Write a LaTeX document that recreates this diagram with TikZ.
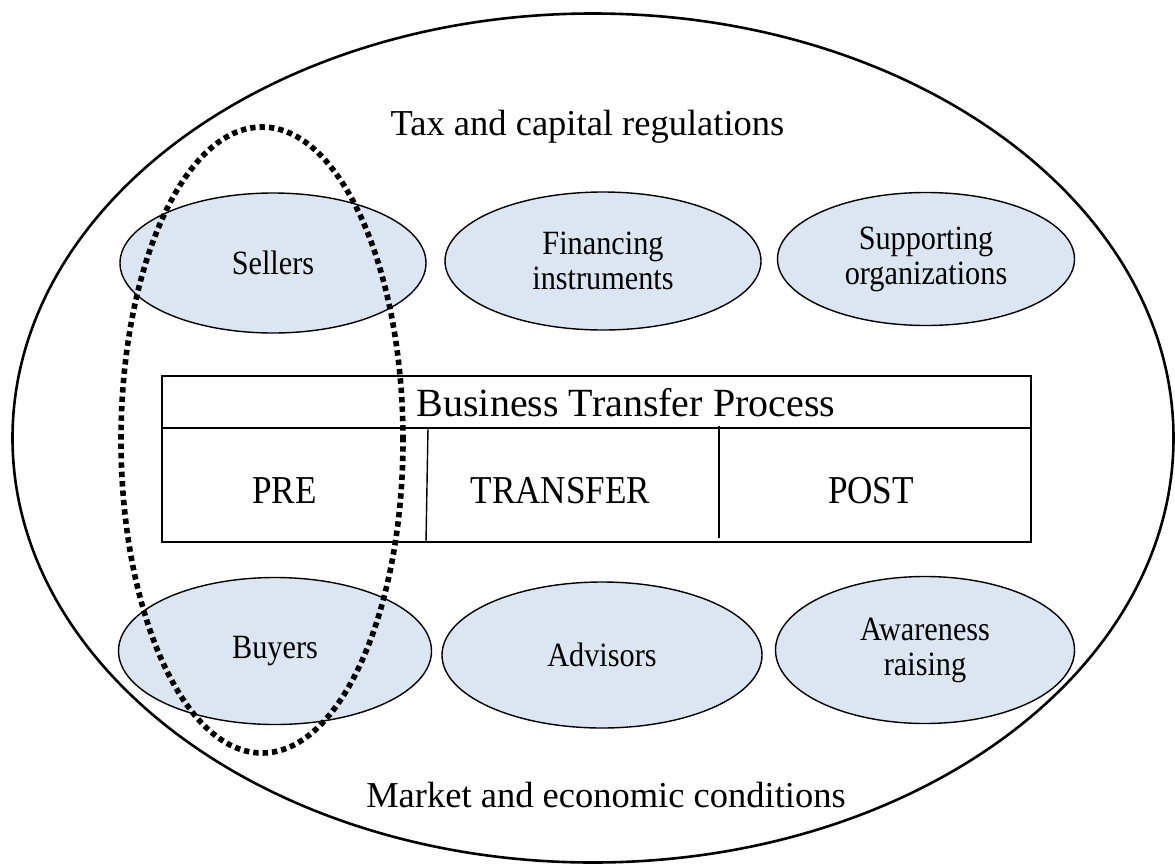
\documentclass[tikz,border=0pt]{standalone}
\usepackage{fontspec}
\setmainfont{Liberation Serif}
\newfontfamily\narrowserif{Liberation Serif}[FakeStretch=0.89]
\usetikzlibrary{shapes.geometric}
\definecolor{blobfill}{HTML}{DCE6F2}
\begin{document}
\begin{tikzpicture}[x=1pt,y=-1pt,
  blob/.style={ellipse,draw=black,line width=1.4pt,fill=blobfill,inner sep=0pt,
    align=center,font=\narrowserif\fontsize{34}{35}\selectfont},
  cellrule/.style={draw=black,line width=1.8pt},
  celltext/.style={anchor=base,font=\narrowserif\fontsize{39.5}{42}\selectfont},
  ctxtext/.style={anchor=base,font=\fontsize{36.5}{40}\selectfont}]
\useasboundingbox (0,0) rectangle (1175,865);
% outer context ellipse
\node[ellipse,draw=black,line width=2.6pt,minimum width=1161pt,minimum height=849pt,inner sep=0pt] (outer) at (593,438) {};
\node[ctxtext] (tax) at (587.5,135) {Tax and capital regulations};
\node[ctxtext] (market) at (606,807) {Market and economic conditions};
% actors
\node[blob,minimum width=306pt,minimum height=140pt] (sellers) at (273,263) {Sellers};
\node[blob,minimum width=316pt,minimum height=138pt] (financing) at (603,261) {Financing\\instruments};
\node[blob,minimum width=297pt,minimum height=133pt] (supporting) at (926,259) {Supporting\\organizations};
\node[blob,minimum width=313pt,minimum height=147pt] (buyers) at (275,651) {Buyers};
\node[blob,minimum width=320pt,minimum height=146pt] (advisors) at (602,655) {Advisors};
\node[blob,minimum width=299pt,minimum height=147pt] (awareness) at (925,650) {Awareness\\raising};
% process table
\coordinate (tl) at (162,376);
\coordinate (br) at (1031,542);
\coordinate (ml) at (162,428);
\coordinate (mr) at (1031,428);
\coordinate (d1t) at (428,428);
\coordinate (d1b) at (426,542);
\coordinate (d2t) at (719,426);
\coordinate (d2b) at (719,538);
\draw[cellrule] (tl) rectangle (br);
\draw[cellrule] (ml) -- (mr);
\draw[cellrule,line width=1.4pt] (d1t) -- (d1b);
\draw[cellrule,line width=1.4pt] (d2t) -- (d2b);
\node[anchor=base,font=\fontsize{40}{44}\selectfont] (btp) at (626,416) {Business Transfer Process};
\node[celltext] (pre) at (284.5,503) {PRE};
\node[celltext] (transfer) at (560.5,503) {TRANSFER};
\node[celltext] (post) at (871,503) {POST};
% dotted focus ellipse
\node[ellipse,draw=black,line width=5.6pt,dash pattern=on 5.4pt off 4pt,minimum width=282pt,minimum height=626pt,inner sep=0pt] (focus) at (262,440) {};
\end{tikzpicture}
\end{document}
